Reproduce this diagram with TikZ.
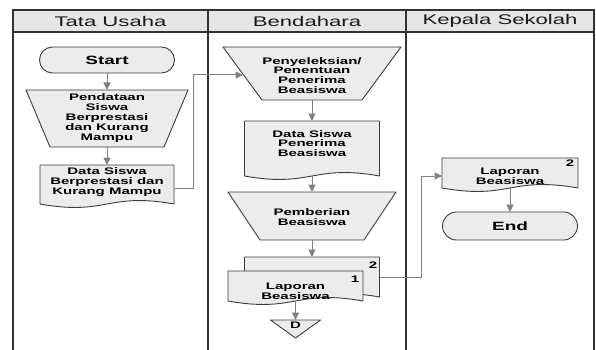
\documentclass[tikz,border=0pt]{standalone}
\usepackage{fontspec}
\newfontfamily\wide[FakeStretch=1.58]{Liberation Sans}
\usetikzlibrary{arrows.meta}
\definecolor{shapefill}{HTML}{ECECEC}
\definecolor{shapeline}{HTML}{3C3C3C}
\definecolor{arrowgray}{HTML}{808080}
\definecolor{headfill}{HTML}{E6E6E6}
\newcommand\flowdoc[4]{%
  \draw[shp] (#1,#3) -- (#2,#3) -- (#2,#4) .. controls ({(#1+#2)/2},{#4-12}) and ({(#1+#2)/2},{#4+12}) .. (#1,#4) -- cycle;}
\tikzset{
  shp/.style={draw=shapeline, fill=shapefill, line width=0.9pt, line join=round},
  bb/.style={draw=none, inner sep=0pt, outer sep=0pt},
  txt/.style={font=\wide\bfseries\fontsize{9.5}{9.8}\selectfont, align=center, inner sep=0pt, text=black},
  termtxt/.style={font=\wide\bfseries\fontsize{12}{14}\selectfont, inner sep=0pt, text=black},
  numtxt/.style={font=\wide\bfseries\fontsize{9.5}{10}\selectfont, inner sep=0pt, text=black},
  flow/.style={draw=arrowgray, line width=1pt, -{Triangle[length=7.5pt,width=7pt]}},
  lane/.style={draw=black!80, line width=1.3pt},
  headtxt/.style={font=\wide\fontsize{14}{16}\selectfont, inner sep=0pt, text=black!90}
}
\begin{document}
\begin{tikzpicture}[x=1pt,y=-1pt]
\useasboundingbox (0,0) rectangle (596,350);
% swimlanes
\fill[headfill] (13,10) rectangle (594,32);
\draw[lane] (13,351) -- (13,10) -- (594,10) -- (594,351);
\draw[lane] (13,32) -- (594,32);
\draw[lane] (208,10) -- (208,351);
\draw[lane] (406,10) -- (406,351);
\node[headtxt] (h1) at (110.5,21) {Tata Usaha};
\node[headtxt] (h2) at (307,21) {Bendahara};
\node[headtxt] (h3) at (500,21) {Kepala Sekolah};

% ---- Tata Usaha
\draw[shp, rounded corners=13pt] (39.5,47) rectangle (174.5,73);
\node[bb, minimum width=135pt, minimum height=26pt] (start) at (107,60) {};
\node[termtxt] (startt) at (107,60) {Start};

\draw[shp] (26,90) -- (188,90) -- (164,147) -- (50,147) -- cycle;
\node[bb, minimum width=162pt, minimum height=57pt] (t1) at (107,118.5) {};
\node[txt] (t1t) at (107,118) {Pendataan\\Siswa\\Berprestasi\\dan Kurang\\Mampu};

\flowdoc{40}{174}{165}{204}
\node[bb, minimum width=134pt, minimum height=39pt] (d1) at (107,184.5) {};
\node[txt] (d1t) at (107,182) {Data Siswa\\Berprestasi dan\\Kurang Mampu};

% ---- Bendahara
\draw[shp] (223,47) -- (401,47) -- (362,100) -- (262,100) -- cycle;
\node[bb, minimum width=178pt, minimum height=53pt] (t2) at (312,73.5) {};
\node[txt] (t2t) at (312,75.5) {Penyeleksian/\\Penentuan\\Penerima\\Beasiswa};
\coordinate (t2in) at (243,75);

\flowdoc{244.5}{379.5}{121}{176}
\node[bb, minimum width=135pt, minimum height=55pt] (d2) at (312,148.5) {};
\node[txt] (d2t) at (312,143.5) {Data Siswa\\Penerima\\Beasiswa};

\draw[shp] (228,192) -- (396,192) -- (364,240) -- (260,240) -- cycle;
\node[bb, minimum width=168pt, minimum height=48pt] (t3) at (312,216) {};
\node[txt] (t3t) at (312,217) {Pemberian\\Beasiswa};

\flowdoc{244.5}{379.5}{257}{297}
\node[bb, minimum width=135pt, minimum height=40pt] (mdb) at (312,277) {};
\node[numtxt] (n2a) at (373,265) {2};
\flowdoc{228}{363}{271}{301}
\node[bb, minimum width=135pt, minimum height=30pt] (mdf) at (295.5,286) {};
\node[numtxt] (n1a) at (355,279) {1};
\node[txt] (mdt) at (295.5,291) {Laporan\\Beasiswa};

\draw[shp] (270.5,320) -- (320.5,320) -- (295.5,338) -- cycle;
\node[bb, minimum width=50pt, minimum height=18pt] (offp) at (295.5,329) {};
\node[numtxt] (offpt) at (295.5,325) {D};

% ---- Kepala Sekolah
\flowdoc{442}{578}{158}{188}
\node[bb, minimum width=136pt, minimum height=30pt] (d3) at (510,173) {};
\node[numtxt] (n2b) at (570,163) {2};
\node[txt] (d3t) at (510,176) {Laporan\\Beasiswa};

\draw[shp, rounded corners=14pt] (442.5,212) rectangle (577.5,240);
\node[bb, minimum width=135pt, minimum height=28pt] (end) at (510,226) {};
\node[termtxt] (endt) at (510,226) {End};

% ---- connectors
\draw[flow] (start.south) -- (t1.north);
\draw[flow] (t1.south) -- (d1.north);
\draw[flow] ([yshift=-3.5pt]d1.east) -- ++(19,0) |- (t2in);
\draw[flow] (t2.south) -- (d2.north);
\draw[flow] (d2.south) -- (t3.north);
\draw[flow] (t3.south) -- (mdb.north);
\draw[flow] (mdf.south) -- (offp.north);
\draw[flow] (mdb.east) -- ++(42,0) |- ([yshift=-3pt]d3.west);
\draw[flow] (d3.south) -- (end.north);
\end{tikzpicture}
\end{document}
